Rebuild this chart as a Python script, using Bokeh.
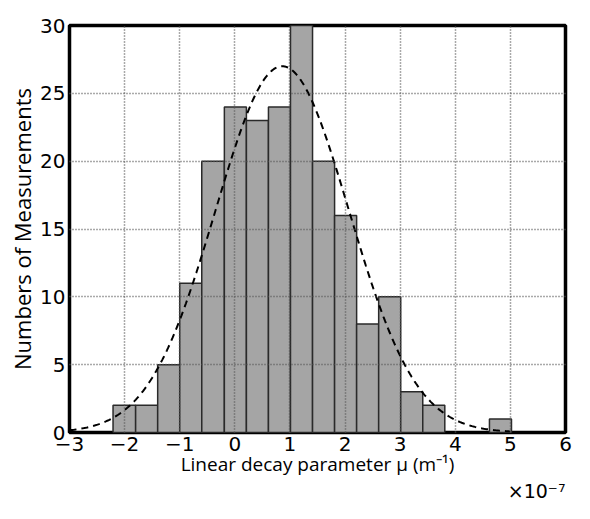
import numpy as np
from bokeh.plotting import figure
from bokeh.models import Range1d, FixedTicker, Title
from bokeh.embed import file_html
from bokeh.resources import INLINE

# Histogram bin edges (x 1e-7 m^-1) and counts
bin_edges = [-2.21, -1.80, -1.40, -1.00, -0.60, -0.19, 0.21, 0.61, 1.01, 1.41,
             1.81, 2.21, 2.61, 3.01, 3.41, 3.81, 4.22, 4.62, 5.02]
counts = [2, 2, 5, 11, 20, 24, 23, 24, 30, 20, 16, 8, 10, 3, 2, 0, 0, 1]

# Fitted normal curve parameters
fit_mean = 0.86
fit_sigma = 1.21
fit_peak = 27.0
fit_x_start, fit_x_end = -3.0, 5.0

x_ticks = [-3, -2, -1, 0, 1, 2, 3, 4, 5, 6]
y_ticks = [0, 5, 10, 15, 20, 25, 30]
x_scale_text = "×10⁻⁷"

p = figure(width=574, height=503, output_backend="svg", toolbar_location=None,
           x_range=Range1d(-3, 6), y_range=Range1d(0, 30),
           min_border_left=69, min_border_right=9, min_border_top=25, min_border_bottom=0)

left = [bin_edges[i] for i in range(len(counts)) if counts[i] > 0]
right = [bin_edges[i + 1] for i in range(len(counts)) if counts[i] > 0]
top = [c for c in counts if c > 0]
p.quad(left=left, right=right, top=top, bottom=0,
       fill_color="#a5a5a5", line_color="#2a2a2a", line_width=1.5)

xs = np.linspace(fit_x_start, fit_x_end, 300)
ys = fit_peak * np.exp(-(xs - fit_mean) ** 2 / (2 * fit_sigma ** 2))
p.line(xs, ys, line_color="black", line_width=2, line_dash="7 5")

for ax in (p.xaxis[0], p.yaxis[0]):
    ax.axis_line_color = None
    ax.major_tick_line_color = None
    ax.minor_tick_line_color = None
    ax.major_tick_out = 0
    ax.major_tick_in = 0
    ax.major_label_text_font = "DejaVu Sans"
    ax.major_label_text_font_size = "20px"
    ax.major_label_text_color = "black"
    ax.axis_label_text_font = "Open Sans"
    ax.axis_label_text_font_style = "normal"
    ax.axis_label_text_color = "black"

p.xaxis.ticker = FixedTicker(ticks=x_ticks)
p.yaxis.ticker = FixedTicker(ticks=y_ticks)
p.xaxis.major_label_standoff = 4
p.yaxis.major_label_standoff = 4
p.xaxis.axis_label = "Linear decay parameter μ (m⁻¹)"
p.xaxis.axis_label_text_font_size = "19px"
p.xaxis.axis_label_standoff = -3
p.yaxis.axis_label = "Numbers of Measurements"
p.yaxis.axis_label_text_font_size = "22px"
p.yaxis.axis_label_standoff = 0

for g in (p.xgrid[0], p.ygrid[0]):
    g.grid_line_color = "#555555"
    g.grid_line_dash = "1 2"
    g.grid_line_width = 1.5
    g.level = "overlay"

p.outline_line_color = "black"
p.outline_line_width = 3.5
p.background_fill_color = "white"
p.border_fill_color = "white"

p.add_layout(Title(text=x_scale_text, align="right", vertical_align="top",
                   text_font="DejaVu Sans", text_font_size="19px",
                   text_font_style="normal", text_color="black", standoff=0), "below")

open("out.html", "w").write(file_html(p, INLINE))
